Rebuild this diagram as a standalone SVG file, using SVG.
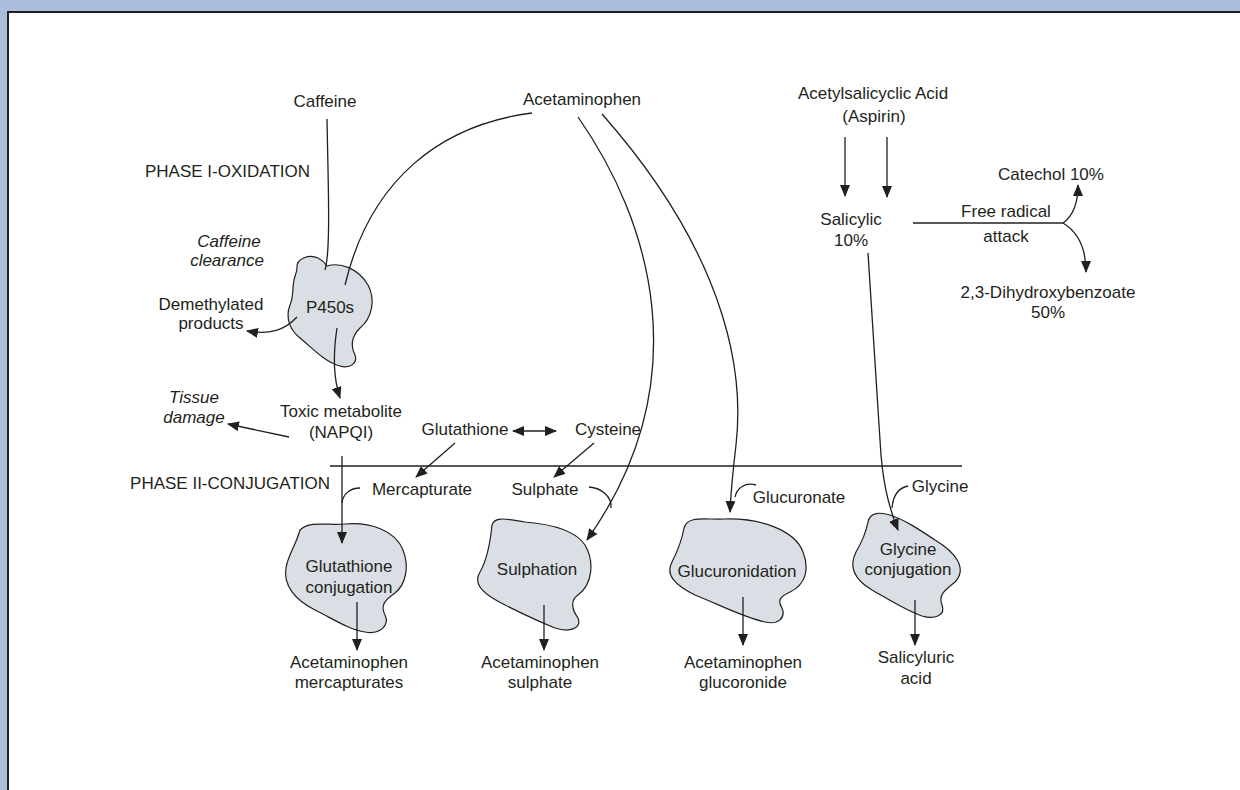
<svg xmlns="http://www.w3.org/2000/svg" width="1240" height="790" viewBox="0 0 1240 790">
<defs>
<style>
text{font-family:"Liberation Sans",Arial,sans-serif;font-size:17px;fill:#231f20}
.c{text-anchor:middle}
.i{font-style:italic}
.blob{fill:#d9dfe4;stroke:#231f20;stroke-width:1.2}
.ln{fill:none;stroke:#231f20;stroke-width:1.3}
.ar{marker-end:url(#ah)}
</style>
<marker id="ah" viewBox="0 0 12 10" refX="11" refY="5" markerWidth="12" markerHeight="10" markerUnits="userSpaceOnUse" orient="auto-start-reverse">
<path d="M0,0 L12,5 L0,10 Z" fill="#231f20"/>
</marker>
</defs>
<rect x="0" y="0" width="1240" height="790" fill="#a9bedb"/>
<rect x="8" y="12" width="1232" height="778" fill="#ffffff"/>
<path d="M8,790 L8,12 L1240,12" fill="none" stroke="#231f20" stroke-width="2"/>

<g id="labels">
<text x="145" y="177">PHASE I-OXIDATION</text>
<text x="330" y="489" text-anchor="end">PHASE II-CONJUGATION</text>
<line x1="330" y1="466" x2="962" y2="466" stroke="#231f20" stroke-width="1.3"/>
</g>

<g id="n-caffeine"><text class="c" x="325" y="107">Caffeine</text></g>
<g id="n-acetaminophen"><text class="c" x="582" y="105">Acetaminophen</text></g>
<g id="n-aspirin"><text class="c" x="873" y="99">Acetylsalicyclic Acid</text><text class="c" x="874" y="122">(Aspirin)</text></g>
<g id="n-caffeine-clearance"><text class="c i" x="229" y="247">Caffeine</text><text class="c i" x="227" y="266">clearance</text></g>
<g id="n-p450">
<path class="blob" d="M297,268 C296,258 310,254 318,258 C322,260 325,263 327,266 C340,262 358,268 368,285 C376,300 372,318 360,328 C352,336 350,345 355,355 C358,363 350,369 340,366 C325,362 312,348 300,338 C290,330 285,318 290,305 C294,296 292,288 294,280 C295,275 297,272 297,268 Z"/>
<text class="c" x="330" y="313">P450s</text>
</g>
<g id="n-demethylated"><text class="c" x="211" y="310">Demethylated</text><text class="c" x="211" y="329">products</text></g>
<g id="n-toxic"><text class="c" x="341" y="417">Toxic metabolite</text><text class="c" x="341" y="438">(NAPQI)</text></g>
<g id="n-tissue"><text class="c i" x="194" y="403">Tissue</text><text class="c i" x="194" y="423">damage</text></g>
<g id="n-glutathione"><text class="c" x="465" y="435">Glutathione</text></g>
<g id="n-cysteine"><text class="c" x="608" y="435">Cysteine</text></g>
<g id="n-mercapturate"><text class="c" x="422" y="495">Mercapturate</text></g>
<g id="n-sulphate"><text class="c" x="545" y="495">Sulphate</text></g>
<g id="n-glucuronate"><text class="c" x="799" y="503">Glucuronate</text></g>
<g id="n-glycine"><text class="c" x="940" y="492">Glycine</text></g>
<g id="n-salicylic"><text class="c" x="851" y="225">Salicylic</text><text class="c" x="851" y="246">10%</text></g>
<g id="n-freeradical"><text class="c" x="1006" y="217">Free radical</text><text class="c" x="1006" y="242">attack</text></g>
<g id="n-catechol"><text class="c" x="1051" y="180">Catechol 10%</text></g>
<g id="n-dhb"><text class="c" x="1048" y="298">2,3-Dihydroxybenzoate</text><text class="c" x="1048" y="318">50%</text></g>

<g id="n-glut-conj">
<path class="blob" d="M300,530 C310,520 330,526 345,524 C370,522 395,530 403,550 C410,568 405,585 395,593 C385,600 380,605 385,615 C390,625 380,635 365,632 C350,630 335,620 315,610 C295,600 283,585 286,568 C288,555 296,545 300,530 Z"/>
<text class="c" x="349" y="572">Glutathione</text><text class="c" x="349" y="593">conjugation</text>
</g>
<g id="n-sulphation">
<path class="blob" d="M492,525 C495,515 510,520 525,522 C550,524 575,530 585,545 C595,562 592,585 578,595 C570,600 572,610 578,618 C582,628 570,633 555,628 C540,622 525,615 505,605 C485,595 472,585 480,572 C487,560 490,545 492,525 Z"/>
<text class="c" x="537" y="575">Sulphation</text>
</g>
<g id="n-glucuronidation">
<path class="blob" d="M684,528 C688,515 705,520 725,519 C760,518 795,530 803,552 C810,570 805,585 790,592 C780,597 777,600 782,608 C786,618 778,625 765,622 C745,618 720,605 695,595 C675,585 665,575 672,562 C678,550 682,540 684,528 Z"/>
<text class="c" x="737" y="577">Glucuronidation</text>
</g>
<g id="n-glycine-conj">
<path class="blob" d="M868,522 C870,512 880,512 890,515 C905,520 920,530 935,540 C955,552 968,568 955,582 C945,590 938,595 942,605 C946,615 935,620 922,616 C905,610 890,600 872,590 C855,580 848,568 856,552 C862,542 866,532 868,522 Z"/>
<text class="c" x="908" y="555">Glycine</text><text class="c" x="908" y="575">conjugation</text>
</g>
<g id="n-out-merc"><text class="c" x="349" y="668">Acetaminophen</text><text class="c" x="349" y="688">mercapturates</text></g>
<g id="n-out-sulph"><text class="c" x="540" y="668">Acetaminophen</text><text class="c" x="540" y="688">sulphate</text></g>
<g id="n-out-gluc"><text class="c" x="743" y="668">Acetaminophen</text><text class="c" x="743" y="688">glucoronide</text></g>
<g id="n-out-salicyluric"><text class="c" x="916" y="663">Salicyluric</text><text class="c" x="916" y="684">acid</text></g>

<g id="connectors">
<path class="ln" d="M327,119 C328,180 331,250 325,270"/>
<path class="ln" d="M532,113 C440,125 370,180 345,285"/>
<path class="ln ar" d="M297,317 C285,330 270,335 247,331"/>
<path class="ln ar" d="M337,328 C332,360 334,380 340,398"/>
<path class="ln ar" d="M289,437 L228,424"/>
<path class="ln ar" d="M513,431 L556,431" marker-start="url(#ah)"/>
<path class="ln ar" d="M455,443 L416,477"/>
<path class="ln ar" d="M594,443 L554,477"/>
<path class="ln ar" d="M342,456 L342,543"/>
<path class="ln" d="M360,488 C350,488 343,494 342,503"/>
<path class="ln" d="M589,487 C602,488 612,497 611,508"/>
<path class="ln ar" d="M578,117 C650,220 700,380 587,540"/>
<path class="ln ar" d="M602,114 C700,225 748,340 736,445 C733,470 731,490 730,512"/>
<path class="ln" d="M756,485 C745,482 737,488 735,497"/>
<path class="ln ar" d="M868,253 L880,440 C882,480 888,505 898,530"/>
<path class="ln" d="M908,486 C898,488 893,496 892,508"/>
<path class="ln ar" d="M845,137 L845,196"/>
<path class="ln ar" d="M887,137 L887,197"/>
<path class="ln" d="M913,223 L1063,223"/>
<path class="ln ar" d="M1063,223 C1073,216 1078,205 1078,185"/>
<path class="ln ar" d="M1063,223 C1078,232 1086,248 1086,272"/>
<path class="ln ar" d="M357,602 L357,650"/>
<path class="ln ar" d="M544,605 L544,650"/>
<path class="ln ar" d="M743,597 L743,645"/>
<path class="ln ar" d="M915,600 L915,645"/>
</g>
</svg>
